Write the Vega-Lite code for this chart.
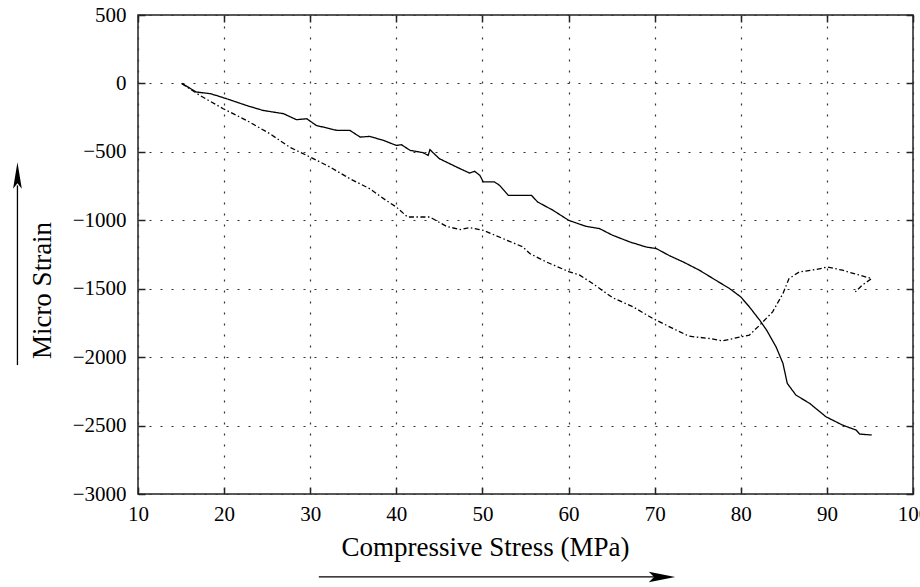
{
  "$schema": "https://vega.github.io/schema/vega-lite/v6.json",
  "width": 775,
  "height": 479,
  "autosize": {"type": "none"},
  "padding": {"left": 138, "top": 15, "right": 7, "bottom": 93},
  "background": "white",
  "config": {
    "font": "Liberation Serif",
    "view": {"stroke": "#222", "strokeWidth": 1.5},
    "axis": {
      "labelFont": "Liberation Serif",
      "titleFont": "Liberation Serif",
      "labelFontSize": 21,
      "titleFontSize": 27,
      "labelColor": "black",
      "titleColor": "black",
      "titleFontWeight": "normal",
      "domain": false,
      "tickColor": "#222",
      "tickWidth": 1.5
    }
  },
  "datasets": {
    "curves": [
      {"series": "solid", "i": 1, "x": 15.07, "y": 0},
      {"series": "solid", "i": 2, "x": 16.8, "y": -63},
      {"series": "solid", "i": 3, "x": 18.4, "y": -75},
      {"series": "solid", "i": 4, "x": 19.1, "y": -88},
      {"series": "solid", "i": 5, "x": 20.3, "y": -112},
      {"series": "solid", "i": 6, "x": 22.6, "y": -161},
      {"series": "solid", "i": 7, "x": 24.5, "y": -197},
      {"series": "solid", "i": 8, "x": 26.9, "y": -221},
      {"series": "solid", "i": 9, "x": 28.4, "y": -265},
      {"series": "solid", "i": 10, "x": 29.6, "y": -258},
      {"series": "solid", "i": 11, "x": 30.7, "y": -307},
      {"series": "solid", "i": 12, "x": 33.1, "y": -343},
      {"series": "solid", "i": 13, "x": 34.6, "y": -343},
      {"series": "solid", "i": 14, "x": 35.8, "y": -392},
      {"series": "solid", "i": 15, "x": 36.9, "y": -387},
      {"series": "solid", "i": 16, "x": 38.5, "y": -416},
      {"series": "solid", "i": 17, "x": 40.0, "y": -453},
      {"series": "solid", "i": 18, "x": 40.6, "y": -448},
      {"series": "solid", "i": 19, "x": 41.6, "y": -489},
      {"series": "solid", "i": 20, "x": 43.1, "y": -506},
      {"series": "solid", "i": 21, "x": 43.7, "y": -526},
      {"series": "solid", "i": 22, "x": 43.9, "y": -484},
      {"series": "solid", "i": 23, "x": 45.0, "y": -550},
      {"series": "solid", "i": 24, "x": 47.0, "y": -611},
      {"series": "solid", "i": 25, "x": 48.5, "y": -655},
      {"series": "solid", "i": 26, "x": 49.1, "y": -642},
      {"series": "solid", "i": 27, "x": 49.7, "y": -672},
      {"series": "solid", "i": 28, "x": 50.1, "y": -720},
      {"series": "solid", "i": 29, "x": 51.4, "y": -720},
      {"series": "solid", "i": 30, "x": 52.0, "y": -745},
      {"series": "solid", "i": 31, "x": 53.0, "y": -818},
      {"series": "solid", "i": 32, "x": 55.7, "y": -818},
      {"series": "solid", "i": 33, "x": 56.4, "y": -866},
      {"series": "solid", "i": 34, "x": 58.2, "y": -927},
      {"series": "solid", "i": 35, "x": 60.0, "y": -1000},
      {"series": "solid", "i": 36, "x": 62.0, "y": -1044},
      {"series": "solid", "i": 37, "x": 63.6, "y": -1061},
      {"series": "solid", "i": 38, "x": 65.1, "y": -1109},
      {"series": "solid", "i": 39, "x": 67.1, "y": -1158},
      {"series": "solid", "i": 40, "x": 69.0, "y": -1195},
      {"series": "solid", "i": 41, "x": 70.2, "y": -1207},
      {"series": "solid", "i": 42, "x": 71.7, "y": -1258},
      {"series": "solid", "i": 43, "x": 73.3, "y": -1304},
      {"series": "solid", "i": 44, "x": 75.2, "y": -1365},
      {"series": "solid", "i": 45, "x": 77.1, "y": -1438},
      {"series": "solid", "i": 46, "x": 78.7, "y": -1499},
      {"series": "solid", "i": 47, "x": 80.0, "y": -1560},
      {"series": "solid", "i": 48, "x": 81.0, "y": -1633},
      {"series": "solid", "i": 49, "x": 82.2, "y": -1730},
      {"series": "solid", "i": 50, "x": 83.0, "y": -1803},
      {"series": "solid", "i": 51, "x": 84.1, "y": -1925},
      {"series": "solid", "i": 52, "x": 84.9, "y": -2046},
      {"series": "solid", "i": 53, "x": 85.4, "y": -2192},
      {"series": "solid", "i": 54, "x": 86.4, "y": -2277},
      {"series": "solid", "i": 55, "x": 88.0, "y": -2338},
      {"series": "solid", "i": 56, "x": 89.9, "y": -2436},
      {"series": "solid", "i": 57, "x": 91.8, "y": -2496},
      {"series": "solid", "i": 58, "x": 93.4, "y": -2533},
      {"series": "solid", "i": 59, "x": 93.8, "y": -2562},
      {"series": "solid", "i": 60, "x": 95.2, "y": -2569},
      {"series": "dashdot", "i": 1, "x": 15.07, "y": 0},
      {"series": "dashdot", "i": 2, "x": 17.2, "y": -88},
      {"series": "dashdot", "i": 3, "x": 19.9, "y": -185},
      {"series": "dashdot", "i": 4, "x": 22.6, "y": -270},
      {"series": "dashdot", "i": 5, "x": 25.3, "y": -367},
      {"series": "dashdot", "i": 6, "x": 27.6, "y": -465},
      {"series": "dashdot", "i": 7, "x": 30.0, "y": -538},
      {"series": "dashdot", "i": 8, "x": 32.3, "y": -611},
      {"series": "dashdot", "i": 9, "x": 34.6, "y": -696},
      {"series": "dashdot", "i": 10, "x": 36.9, "y": -769},
      {"series": "dashdot", "i": 11, "x": 38.8, "y": -854},
      {"series": "dashdot", "i": 12, "x": 40.0, "y": -903},
      {"series": "dashdot", "i": 13, "x": 41.3, "y": -976},
      {"series": "dashdot", "i": 14, "x": 43.9, "y": -976},
      {"series": "dashdot", "i": 15, "x": 45.8, "y": -1044},
      {"series": "dashdot", "i": 16, "x": 47.4, "y": -1068},
      {"series": "dashdot", "i": 17, "x": 48.5, "y": -1053},
      {"series": "dashdot", "i": 18, "x": 50.1, "y": -1073},
      {"series": "dashdot", "i": 19, "x": 52.4, "y": -1134},
      {"series": "dashdot", "i": 20, "x": 54.7, "y": -1195},
      {"series": "dashdot", "i": 21, "x": 55.5, "y": -1243},
      {"series": "dashdot", "i": 22, "x": 57.4, "y": -1304},
      {"series": "dashdot", "i": 23, "x": 60.1, "y": -1377},
      {"series": "dashdot", "i": 24, "x": 61.3, "y": -1401},
      {"series": "dashdot", "i": 25, "x": 62.8, "y": -1462},
      {"series": "dashdot", "i": 26, "x": 65.1, "y": -1565},
      {"series": "dashdot", "i": 27, "x": 67.5, "y": -1633},
      {"series": "dashdot", "i": 28, "x": 69.8, "y": -1718},
      {"series": "dashdot", "i": 29, "x": 72.1, "y": -1790},
      {"series": "dashdot", "i": 30, "x": 74.0, "y": -1847},
      {"series": "dashdot", "i": 31, "x": 76.4, "y": -1864},
      {"series": "dashdot", "i": 32, "x": 77.9, "y": -1881},
      {"series": "dashdot", "i": 33, "x": 80.0, "y": -1852},
      {"series": "dashdot", "i": 34, "x": 81.0, "y": -1839},
      {"series": "dashdot", "i": 35, "x": 82.2, "y": -1766},
      {"series": "dashdot", "i": 36, "x": 83.7, "y": -1669},
      {"series": "dashdot", "i": 37, "x": 84.9, "y": -1535},
      {"series": "dashdot", "i": 38, "x": 85.6, "y": -1426},
      {"series": "dashdot", "i": 39, "x": 86.8, "y": -1377},
      {"series": "dashdot", "i": 40, "x": 88.7, "y": -1360},
      {"series": "dashdot", "i": 41, "x": 90.1, "y": -1341},
      {"series": "dashdot", "i": 42, "x": 91.8, "y": -1365},
      {"series": "dashdot", "i": 43, "x": 93.8, "y": -1401},
      {"series": "dashdot", "i": 44, "x": 95.2, "y": -1426},
      {"series": "dashdot", "i": 45, "x": 94.1, "y": -1474},
      {"series": "dashdot", "i": 46, "x": 93.3, "y": -1523}
    ],
    "arrows": [
      {"x1": 31.0, "x2": 70.6, "y1": -3606, "y2": -3606},
      {"x1": -4.0, "x2": -4.0, "y1": -2058, "y2": -745}
    ],
    "heads": [
      {"dir": "right", "x": 70.85, "y": -3606},
      {"dir": "up", "x": -4.0, "y": -672}
    ]
  },
  "layer": [
    {
      "data": {"name": "curves"},
      "mark": {"type": "line", "color": "black", "strokeWidth": 1.3},
      "encoding": {
        "x": {
          "field": "x", "type": "quantitative",
          "scale": {"domain": [10, 100], "nice": false, "zero": false},
          "axis": {
            "orient": "bottom",
            "title": "Compressive Stress (MPa)",
            "values": [10, 20, 30, 40, 50, 60, 70, 80, 90, 100],
            "format": "d",
            "grid": true, "gridDash": [2, 9], "gridColor": "#333", "gridWidth": 1.2,
            "tickSize": -7, "labelPadding": 16, "labelFlush": false,
            "titleX": 347, "titleY": 53, "titleAlign": "center", "titleBaseline": "middle", "titleAnchor": null
          }
        },
        "y": {
          "field": "y", "type": "quantitative",
          "scale": {"domain": [-3000, 500], "nice": false, "zero": false},
          "axis": {
            "orient": "left",
            "title": "Micro Strain",
            "values": [500, 0, -500, -1000, -1500, -2000, -2500, -3000],
            "format": "d",
            "grid": true, "gridDash": [2, 9], "gridColor": "#333", "gridWidth": 1.2,
            "tickSize": -7, "labelPadding": 19, "labelFlush": false,
            "titleX": -96, "titleY": 275, "titleAlign": "center", "titleBaseline": "middle", "titleAngle": -90
          }
        },
        "detail": {"field": "series"},
        "order": {"field": "i", "type": "quantitative"},
        "strokeDash": {
          "field": "series", "type": "nominal",
          "scale": {"domain": ["solid", "dashdot"], "range": [[1, 0], [5, 2.5, 1.5, 2.5]]},
          "legend": null
        }
      }
    },
    {
      "data": {"name": "arrows"},
      "mark": {"type": "rule", "color": "black", "strokeWidth": 1.3, "clip": false},
      "encoding": {
        "x": {
          "field": "x1", "type": "quantitative",
          "scale": {"domain": [10, 100], "nice": false, "zero": false},
          "axis": {"orient": "top", "title": null, "labels": false, "grid": false,
                   "values": [10, 20, 30, 40, 50, 60, 70, 80, 90, 100], "tickSize": -7}
        },
        "x2": {"field": "x2"},
        "y": {
          "field": "y1", "type": "quantitative",
          "scale": {"domain": [-3000, 500], "nice": false, "zero": false},
          "axis": {"orient": "right", "title": null, "labels": false, "grid": false,
                   "values": [500, 0, -500, -1000, -1500, -2000, -2500, -3000], "tickSize": -7}
        },
        "y2": {"field": "y2"}
      }
    },
    {
      "data": {"name": "heads"},
      "mark": {"type": "point", "filled": true, "color": "black", "opacity": 1, "size": 700, "clip": false},
      "encoding": {
        "x": {"field": "x", "type": "quantitative", "axis": null,
              "scale": {"domain": [10, 100], "nice": false, "zero": false}},
        "y": {"field": "y", "type": "quantitative", "axis": null,
              "scale": {"domain": [-3000, 500], "nice": false, "zero": false}},
        "shape": {
          "field": "dir", "type": "nominal", "legend": null,
          "scale": {"domain": ["right", "up"],
                    "range": ["M1,0L-1,-0.4L-0.6,0L-1,0.4Z", "M0,-1L0.33,1L0,0.6L-0.33,1Z"]}
        }
      }
    }
  ],
  "resolve": {"axis": {"x": "independent", "y": "independent"}}
}
